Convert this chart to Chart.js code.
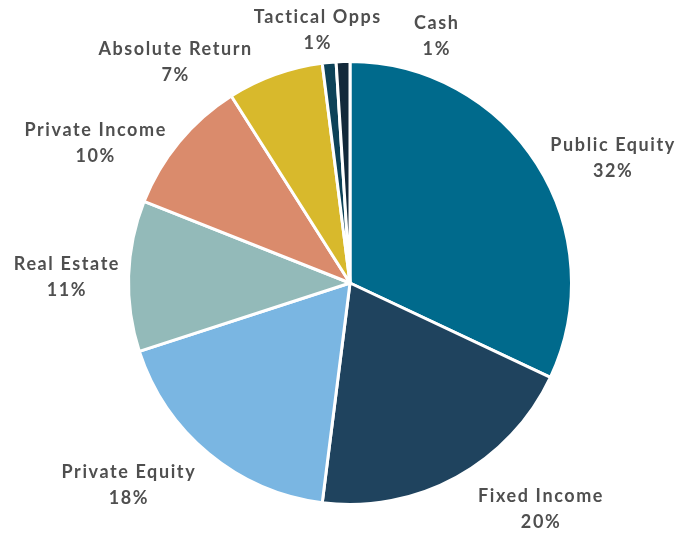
<!DOCTYPE html>
<html>
<head>
<meta charset="utf-8">
<script src="https://cdn.jsdelivr.net/npm/chart.js@4.4.1/dist/chart.umd.min.js"></script>
<style>
  html, body { margin: 0; padding: 0; background: #fff; }
  #wrap { width: 679px; height: 533px; }
</style>
</head>
<body>
<div id="wrap"><canvas id="allocChart"></canvas></div>
<script>
// Data
const categories = ['Public Equity', 'Fixed Income', 'Private Equity', 'Real Estate',
    'Private Income', 'Absolute Return', 'Tactical Opps', 'Cash'];
const allocation = [32, 20, 18, 11, 10, 7, 1, 1];

// Style
const sliceColors = ['#006a8c', '#1f435e', '#7ab6e2', '#93bab9', '#da8b6c', '#d8b92c', '#0d4258', '#13293a'];
// label nudges relative to a point out past the slice edge
const labelNudge = [[20, 29], [52, -25], [-39, -19], [3, 3], [-34, 43], [-78, 49], [-6, 33], [95, 40]];

const outsideLabels = {
    id: 'outsideLabels',
    afterDatasetsDraw(chart) {
        const ctx = chart.ctx;
        const meta = chart.getDatasetMeta(0);
        ctx.save();
        ctx.font = 'bold 18px Lato, "DejaVu Sans", sans-serif';
        ctx.letterSpacing = '1.6px';
        ctx.fillStyle = '#4f4f4f';
        ctx.textAlign = 'center';
        ctx.textBaseline = 'middle';
        meta.data.forEach((arc, i) => {
            const mid = (arc.startAngle + arc.endAngle) / 2;
            const r = 287;
            const x = arc.x + Math.cos(mid) * r + labelNudge[i][0];
            const y = arc.y + Math.sin(mid) * r + labelNudge[i][1];
            ctx.fillText(categories[i], x + 0.8, y - 13);
            ctx.fillText(allocation[i] + '%', x + 0.8, y + 13);
        });
        ctx.restore();
    }
};

const ctx = document.getElementById('allocChart').getContext('2d');
new Chart(ctx, {
    type: 'pie',
    data: {
        labels: categories,
        datasets: [{
            data: allocation,
            backgroundColor: sliceColors,
            borderColor: '#ffffff',
            borderWidth: 3
        }]
    },
    options: {
        responsive: true,
        maintainAspectRatio: false,
        animation: false,
        layout: { padding: { left: 127, right: 106, top: 60, bottom: 27 } },
        plugins: {
            legend: { display: false },
            tooltip: { enabled: false }
        }
    },
    plugins: [outsideLabels]
});
</script>
</body>
</html>
